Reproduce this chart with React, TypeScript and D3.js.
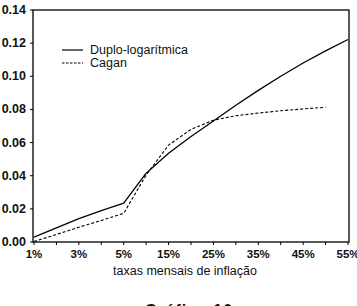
import React from "react";
import * as d3 from "d3";

const categories = ["1%", "2%", "3%", "4%", "5%", "10%", "15%", "20%", "25%", "30%", "35%", "40%", "45%", "50%", "55%"];
const tickLabels = ["1%", "3%", "5%", "15%", "25%", "35%", "45%", "55%"];
const duploLog = [0.003, 0.0085, 0.0141, 0.019, 0.0234, 0.0415, 0.0535, 0.0637, 0.073, 0.0825, 0.0915, 0.1, 0.108, 0.1153, 0.1222];
const cagan = [0.0003, 0.0045, 0.0089, 0.013, 0.0173, 0.0404, 0.0585, 0.068, 0.0735, 0.0762, 0.0778, 0.0792, 0.0803, 0.0813, null];
const yTicks = [0, 0.02, 0.04, 0.06, 0.08, 0.1, 0.12, 0.14];

const W = 357, H = 306;
const L = 33, R = 349, T = 10, B = 242;

export default function App() {
  const x = d3.scalePoint<string>().domain(categories).range([L + 1, R - 1]);
  const y = d3.scaleLinear().domain([0, 0.14]).range([B, T]);
  const line = d3.line<number | null>()
    .defined((d) => d !== null)
    .x((_, i) => x(categories[i]) as number)
    .y((d) => y(d as number));
  const font = "'Liberation Sans', Arial, sans-serif";
  return (
    <svg width={W} height={H} style={{ position: "absolute", left: 0, top: 0, background: "#fff" }}>
      <rect x={L} y={T} width={R - L} height={B - T} fill="none" stroke="#000" strokeWidth={1.3} />
      {yTicks.map((t) => (
        <g key={t}>
          <line x1={L - 3} x2={L} y1={y(t)} y2={y(t)} stroke="#000" strokeWidth={1} />
          <text x={26} y={y(t) + 4} textAnchor="end" fontFamily={font} fontSize={12.5} fontWeight="bold" fill="#111">
            {t.toFixed(2)}
          </text>
        </g>
      ))}
      {categories.map((c) => (
        <line key={c} x1={x(c)} x2={x(c)} y1={B} y2={B + 3} stroke="#000" strokeWidth={1} />
      ))}
      {tickLabels.map((c) => (
        <text key={c} x={x(c)} y={B + 16} textAnchor="middle" fontFamily={font} fontSize={11.5} fontWeight="bold" fill="#111">
          {c}
        </text>
      ))}
      <text x={185} y={275} textAnchor="middle" fontFamily={font} fontSize={12.5} fill="#111">
        taxas mensais de inflação
      </text>
      <path d={line(duploLog) as string} fill="none" stroke="#000" strokeWidth={1.3} strokeLinejoin="round" />
      <path d={line(cagan) as string} fill="none" stroke="#000" strokeWidth={1.1} strokeDasharray="3,2" />
      <line x1={62} x2={83} y1={50} y2={50} stroke="#000" strokeWidth={1.2} />
      <line x1={62} x2={83} y1={63} y2={63} stroke="#000" strokeWidth={1} strokeDasharray="2.5,1.5" />
      <text x={90} y={54} fontFamily={font} fontSize={12.5} fill="#111">Duplo-logarítmica</text>
      <text x={90} y={67} fontFamily={font} fontSize={12.5} fill="#111">Cagan</text>
      <text x={189} y={316} textAnchor="middle" fontFamily={font} fontSize={16} fontWeight="bold" fill="#111" letterSpacing={1}>
        Gráfico 10
      </text>
    </svg>
  );
}
